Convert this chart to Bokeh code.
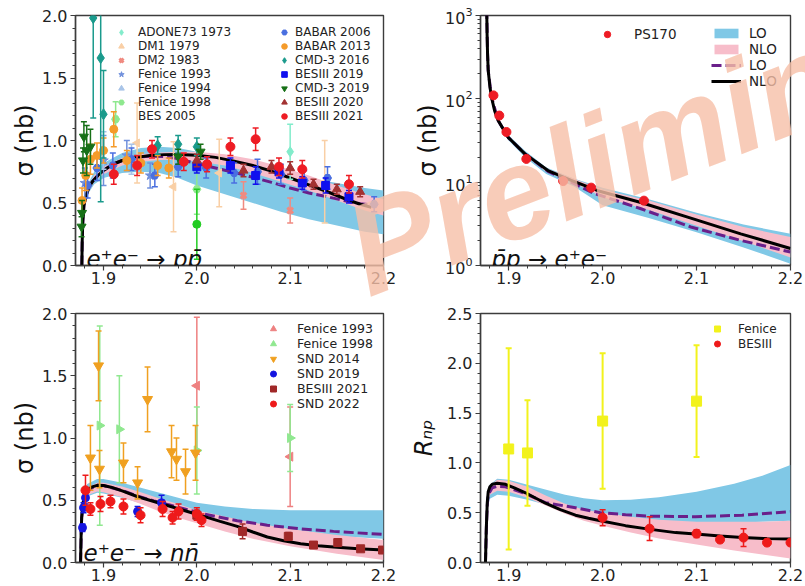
import numpy as np
from bokeh.plotting import figure
from bokeh.models import (Legend, LegendItem, Label, FixedTicker, PrintfTickFormatter,
                          Range1d, LogTickFormatter, GridBox)
from bokeh.embed import file_html
from bokeh.resources import INLINE

FONT = "DejaVu Sans"
BLUE_BAND = "#80c8e6"
PINK_BAND = "#f7bdca"
LO_LINE = "#6a1f8a"
WM_COLOR = "#f6bfa8"

# ---------------- axis ticks ----------------
x_major = [1.9, 2.0, 2.1, 2.2]
x_minor = [1.88, 1.92, 1.94, 1.96, 1.98, 2.02, 2.04, 2.06, 2.08, 2.12, 2.14, 2.16, 2.18]
y_major_2 = [0.0, 0.5, 1.0, 1.5, 2.0]
y_major_25 = [0.0, 0.5, 1.0, 1.5, 2.0, 2.5]
y_major_log = [1, 10, 100, 1000]
y_minor_log = [2, 3, 4, 5, 6, 7, 8, 9, 20, 30, 40, 50, 60, 70, 80, 90,
               200, 300, 400, 500, 600, 700, 800, 900]

# ---------------- panel 1: e+e- -> p pbar ----------------
p1_nlo_x = [1.8768, 1.8772, 1.8778, 1.879, 1.881, 1.884, 1.888, 1.894, 1.900, 1.910, 1.920, 1.935,
            1.950, 1.965, 1.980, 2.000, 2.020, 2.040, 2.060, 2.080, 2.100, 2.120, 2.140, 2.160,
            2.175, 2.187]
p1_nlo_y = [0.0, 0.20, 0.35, 0.48, 0.55, 0.62, 0.67, 0.72, 0.76, 0.81, 0.84, 0.865,
            0.88, 0.887, 0.888, 0.882, 0.865, 0.835, 0.80, 0.755, 0.70, 0.645, 0.59, 0.53,
            0.49, 0.465]
p1_lo_x = [1.8768, 1.8772, 1.8778, 1.879, 1.881, 1.884, 1.888, 1.894, 1.900, 1.910, 1.920, 1.935,
           1.950, 1.965, 1.980, 2.000, 2.020, 2.040, 2.060, 2.080, 2.100, 2.120, 2.140, 2.160,
           2.175, 2.190]
p1_lo_y = [0.0, 0.20, 0.35, 0.48, 0.55, 0.62, 0.67, 0.72, 0.76, 0.81, 0.84, 0.865,
           0.875, 0.872, 0.855, 0.815, 0.78, 0.745, 0.705, 0.665, 0.62, 0.58, 0.55, 0.515,
           0.495, 0.48]
p1_band_x = [1.8768, 1.879, 1.884, 1.89, 1.90, 1.92, 1.94, 1.96, 1.98, 2.0, 2.03, 2.06, 2.09,
             2.12, 2.15, 2.18, 2.2]
p1_lo_band_lower = [0.0, 0.45, 0.58, 0.65, 0.70, 0.74, 0.75, 0.74, 0.70, 0.64, 0.57, 0.50, 0.43,
                    0.37, 0.32, 0.27, 0.25]
p1_lo_band_upper = [0.0, 0.52, 0.66, 0.75, 0.82, 0.90, 0.94, 0.95, 0.94, 0.91, 0.86, 0.81, 0.76,
                    0.70, 0.66, 0.62, 0.60]
p1_nlo_band_lower = [0.0, 0.46, 0.59, 0.67, 0.73, 0.80, 0.83, 0.845, 0.845, 0.835, 0.80, 0.74,
                     0.67, 0.60, 0.52, 0.44, 0.40]
p1_nlo_band_upper = [0.0, 0.50, 0.64, 0.72, 0.79, 0.86, 0.89, 0.905, 0.91, 0.91, 0.89, 0.85,
                     0.79, 0.72, 0.64, 0.57, 0.53]

adone73_x = [2.1]
adone73_y = [0.91]
adone73_e = [0.22]
dm1_x = [1.936, 1.975, 2.024, 2.137]
dm1_y = [0.98, 0.63, 0.74, 0.67]
dm1_e = [0.32, 0.36, 0.27, 0.33]
dm2_x = [2.05, 2.1]
dm2_y = [0.56, 0.44]
dm2_e = [0.11, 0.10]
fen93_x = [1.88, 1.9, 1.925, 1.95]
fen93_y = [0.66, 0.84, 0.88, 0.72]
fen93_e = [0.12, 0.20, 0.12, 0.10]
fen94_x = [1.9, 1.93]
fen94_y = [0.92, 0.85]
fen94_e = [0.15, 0.12]
fen98_x = [1.913, 2.0]
fen98_y = [1.17, 0.61]
fen98_e = [0.14, 0.20]
bes05_x = [2.0]
bes05_y = [0.33]
bes05_e = [0.28]
babar06_x = [1.883, 1.893, 1.91, 1.93, 1.955, 1.98, 2.01, 2.04, 2.065, 2.09, 2.115, 2.14, 2.19]
babar06_y = [0.64, 0.78, 0.80, 0.85, 0.72, 0.79, 0.78, 0.74, 0.75, 0.73, 0.68, 0.70, 0.49]
babar06_e = [0.10, 0.10, 0.10, 0.09, 0.09, 0.08, 0.08, 0.08, 0.10, 0.08, 0.08, 0.09, 0.06]
babar13_x = [1.877, 1.881, 1.886, 1.893, 1.9, 1.911, 1.925, 1.94, 1.958, 1.97]
babar13_y = [0.52, 0.72, 0.85, 0.88, 0.92, 1.09, 0.84, 0.82, 0.80, 0.78]
babar13_e = [0.10, 0.12, 0.12, 0.10, 0.10, 0.14, 0.08, 0.08, 0.08, 0.08]
cmd16_x = [1.889, 1.897, 1.9, 1.958, 1.98, 2.0]
cmd16_y = [1.98, 1.66, 1.21, 0.96, 0.97, 0.95]
cmd16_e = [0.80, 1.15, 0.35, 0.07, 0.07, 0.07]
bes19_x = [2.0, 2.036, 2.063, 2.088, 2.113, 2.138, 2.163]
bes19_y = [0.79, 0.80, 0.72, 0.75, 0.66, 0.64, 0.55]
bes19_e = [0.05, 0.06, 0.07, 0.05, 0.05, 0.06, 0.05]
cmd19_x = [1.8765, 1.877, 1.878, 1.879, 1.882, 1.886, 1.98, 2.004]
cmd19_y = [0.31, 0.42, 0.84, 1.03, 0.92, 0.95, 0.87, 0.91]
cmd19_e = [0.08, 0.10, 0.10, 0.12, 0.20, 0.14, 0.06, 0.06]
bes20_x = [2.0, 2.05, 2.08, 2.1, 2.125, 2.15, 2.175]
bes20_y = [0.84, 0.76, 0.79, 0.78, 0.65, 0.61, 0.59]
bes20_e = [0.05, 0.05, 0.05, 0.05, 0.04, 0.04, 0.04]
bes21_x = [1.911, 1.936, 1.952, 1.986, 2.011, 2.036, 2.063, 2.088, 2.113, 2.163]
bes21_y = [0.73, 0.80, 0.93, 0.83, 0.81, 0.95, 1.01, 0.79, 0.77, 0.65]
bes21_e = [0.08, 0.08, 0.07, 0.07, 0.06, 0.07, 0.09, 0.07, 0.07, 0.07]

# ---------------- panel 2: pbar p -> e+e- ----------------
p2_nlo_x = [1.8766, 1.8770, 1.8775, 1.8782, 1.880, 1.8817, 1.885, 1.8888, 1.8994, 1.917, 1.9418,
            1.9666, 1.9949, 2.0408, 2.0939, 2.147, 2.2]
p2_nlo_y = [1200, 600, 350, 219, 140, 105, 72, 55, 34.5, 22, 13.8, 10.5, 7.9, 5.7, 3.7, 2.4, 1.6]
p2_lo_x = [1.8766, 1.8775, 1.8782, 1.8817, 1.8888, 1.8994, 1.917, 1.9418, 1.9666, 1.99, 2.0408,
           2.0939, 2.147, 2.2]
p2_lo_y = [1200, 350, 219, 105, 55, 34.5, 22, 13.5, 10.0, 7.4, 4.8, 2.9, 2.0, 1.45]
p2_band_x = [1.8766, 1.8782, 1.8817, 1.8888, 1.8994, 1.917, 1.94, 1.97, 2.0, 2.05, 2.1, 2.15, 2.2]
p2_lo_band_lower = [1200, 200, 98, 51, 32, 20, 12.5, 8.8, 5.3, 3.7, 2.5, 1.65, 1.05]
p2_lo_band_upper = [1200, 235, 112, 59, 37, 24, 15, 11.0, 8.6, 6.2, 4.3, 3.1, 2.4]
p2_nlo_band_lower = [1200, 210, 101, 53, 33.5, 21, 13.3, 9.8, 6.6, 4.6, 3.0, 1.95, 1.25]
p2_nlo_band_upper = [1200, 228, 109, 57, 36, 23, 14.6, 10.9, 8.1, 6.0, 4.1, 2.9, 2.2]
ps170_x = [1.8838, 1.890, 1.8976, 1.9188, 1.958, 1.9878, 2.044]
ps170_y = [110, 63, 40, 19, 10.3, 8.6, 6.0]

# ---------------- panel 3: e+e- -> n nbar ----------------
p3_nlo_x = [1.8754, 1.8760, 1.8766, 1.8778, 1.8795, 1.8825, 1.8870, 1.8932, 1.9000, 1.9080,
            1.9200, 1.9360, 1.9540, 1.9720, 1.9900, 2.0075, 2.0250, 2.0433, 2.0600, 2.0755,
            2.0930, 2.1112, 2.1300, 2.1465, 2.1730, 2.2000]
p3_nlo_y = [0.0, 0.22, 0.36, 0.47, 0.53, 0.58, 0.605, 0.62, 0.618, 0.605, 0.575, 0.53, 0.49,
            0.45, 0.41, 0.37, 0.33, 0.29, 0.245, 0.205, 0.175, 0.15, 0.135, 0.125, 0.11, 0.10]
p3_lo_x = [1.8754, 1.8766, 1.8795, 1.8825, 1.8932, 1.9000, 1.9200, 1.9360, 1.9540, 1.9720,
           1.9900, 2.0075, 2.0433, 2.0755, 2.1112, 2.1465, 2.2000]
p3_lo_y = [0.0, 0.36, 0.53, 0.58, 0.62, 0.618, 0.578, 0.535, 0.495, 0.46, 0.425, 0.39, 0.335,
           0.30, 0.27, 0.25, 0.225]
p3_band_x = [1.8754, 1.8766, 1.8795, 1.8825, 1.8932, 1.9000, 1.9200, 1.9400, 1.9600, 1.9800,
             2.0000, 2.0300, 2.0600, 2.1000, 2.1500, 2.2000]
p3_lo_band_lower = [0.0, 0.33, 0.49, 0.53, 0.56, 0.555, 0.52, 0.475, 0.43, 0.39, 0.35, 0.31,
                    0.28, 0.24, 0.21, 0.19]
p3_lo_band_upper = [0.0, 0.40, 0.57, 0.63, 0.67, 0.67, 0.64, 0.60, 0.56, 0.52, 0.48, 0.45,
                    0.43, 0.42, 0.42, 0.42]
p3_nlo_band_lower = [0.0, 0.34, 0.50, 0.54, 0.57, 0.565, 0.525, 0.47, 0.41, 0.36, 0.315, 0.25,
                     0.19, 0.13, 0.07, 0.02]
p3_nlo_band_upper = [0.0, 0.38, 0.55, 0.60, 0.64, 0.64, 0.61, 0.565, 0.515, 0.47, 0.42, 0.37,
                     0.32, 0.27, 0.22, 0.18]

nfen93_x = [2.0, 2.1]
nfen93_y = [1.42, 0.85]
nfen93_e = [0.55, 0.40]
nfen98_x = [1.896, 1.917, 2.0, 2.1]
nfen98_y = [1.10, 1.07, 0.90, 1.00]
nfen98_e = [0.80, 0.43, 0.35, 0.27]
snd14_x = [1.886, 1.8947, 1.8957, 1.9214, 1.9365, 1.9472, 1.9729, 1.9782, 1.9879, 1.9986]
snd14_y = [0.84, 1.58, 0.75, 0.80, 0.64, 1.31, 0.89, 0.83, 0.73, 0.88]
snd14_e = [0.26, 0.28, 0.15, 0.16, 0.13, 0.26, 0.21, 0.17, 0.18, 0.22]
snd19_x = [1.8775, 1.8786, 1.8807, 1.9365, 1.9622]
snd19_y = [0.28, 0.44, 0.52, 0.41, 0.48]
snd19_e = [0.03, 0.04, 0.05, 0.04, 0.06]
nbes21_x = [2.0, 2.049, 2.098, 2.125, 2.151, 2.1755, 2.199]
nbes21_y = [0.38, 0.25, 0.21, 0.14, 0.16, 0.11, 0.10]
nbes21_e = [0.04, 0.06, 0.03, 0.02, 0.03, 0.02, 0.02]
snd22_x = [1.8807, 1.886, 1.8968, 1.9075, 1.9214, 1.9397, 1.9633, 1.974, 1.9804, 2.0, 2.005]
snd22_y = [0.58, 0.43, 0.47, 0.49, 0.45, 0.38, 0.43, 0.36, 0.41, 0.39, 0.34]
snd22_e = [0.12, 0.05, 0.06, 0.05, 0.06, 0.06, 0.06, 0.05, 0.06, 0.05, 0.05]

# ---------------- panel 4: R_np ----------------
p4_nlo_x = [1.8753, 1.8762, 1.8772, 1.8782, 1.8800, 1.8825, 1.8878, 1.8966, 1.9060, 1.9179,
            1.9290, 1.9392, 1.9550, 1.9711, 1.9850, 1.9977, 2.0244, 2.0492, 2.0776, 2.0989,
            2.1250, 2.1486, 2.1750, 2.2000]
p4_nlo_y = [0.0, 0.35, 0.60, 0.71, 0.76, 0.785, 0.795, 0.785, 0.75, 0.70, 0.645, 0.595, 0.53,
            0.475, 0.445, 0.42, 0.37, 0.335, 0.30, 0.285, 0.265, 0.25, 0.24, 0.235]
p4_lo_x = [1.8753, 1.8762, 1.8772, 1.8782, 1.8825, 1.8878, 1.8966, 1.9179, 1.9392, 1.9711,
           1.9977, 2.0244, 2.0492, 2.0989, 2.1486, 2.2000]
p4_lo_y = [0.0, 0.33, 0.57, 0.68, 0.75, 0.765, 0.76, 0.69, 0.60, 0.55, 0.50, 0.48, 0.465,
           0.46, 0.475, 0.51]
p4_band_x = [1.8753, 1.8772, 1.8800, 1.8878, 1.9000, 1.9200, 1.9400, 1.9600, 1.9800, 2.0000,
             2.0300, 2.0600, 2.1000, 2.1400, 2.1700, 2.2000]
p4_lo_band_lower = [0.0, 0.55, 0.64, 0.68, 0.67, 0.63, 0.58, 0.53, 0.48, 0.44, 0.41, 0.40,
                    0.395, 0.40, 0.41, 0.42]
p4_lo_band_upper = [0.0, 0.65, 0.78, 0.84, 0.83, 0.78, 0.73, 0.68, 0.645, 0.625, 0.63, 0.655,
                    0.71, 0.79, 0.87, 0.98]
p4_nlo_band_lower = [0.0, 0.58, 0.68, 0.72, 0.71, 0.65, 0.57, 0.49, 0.42, 0.37, 0.30, 0.24,
                     0.18, 0.12, 0.08, 0.04]
p4_nlo_band_upper = [0.0, 0.63, 0.77, 0.83, 0.82, 0.76, 0.67, 0.59, 0.53, 0.50, 0.46, 0.43,
                     0.41, 0.41, 0.41, 0.42]
rfen_x = [1.9, 1.92, 2.0, 2.1]
rfen_y = [1.14, 1.10, 1.42, 1.62]
rfen_e = [1.01, 0.53, 0.68, 0.56]
rbes_x = [2.0, 2.05, 2.1, 2.125, 2.15, 2.175, 2.2]
rbes_y = [0.45, 0.34, 0.29, 0.23, 0.25, 0.20, 0.20]
rbes_e = [0.08, 0.12, 0.04, 0.03, 0.09, 0.03, 0.03]


# ---------------- helpers ----------------
def make_fig(width, height, bl, br, bt, bb, y_range, y_type="linear"):
    p = figure(width=width, height=height, x_range=Range1d(1.87, 2.2),
               y_range=Range1d(*y_range), y_axis_type=y_type,
               output_backend="svg", toolbar_location=None,
               min_border_left=bl, min_border_right=br, min_border_top=bt,
               min_border_bottom=bb)
    p.grid.visible = False
    p.background_fill_color = "white"
    p.border_fill_color = "white"
    p.outline_line_color = "#3c3c3c"
    p.outline_line_width = 1.4
    p.outline_line_alpha = 1.0
    for ax in (p.xaxis[0], p.yaxis[0]):
        ax.axis_line_color = "#3c3c3c"
        ax.axis_line_width = 1.4
        ax.major_tick_line_color = "#3c3c3c"
        ax.minor_tick_line_color = "#3c3c3c"
        ax.major_tick_out = 5
        ax.major_tick_in = 0
        ax.minor_tick_out = 3
        ax.minor_tick_in = 0
        ax.major_tick_line_width = 1.2
        ax.minor_tick_line_width = 1.0
        ax.major_label_text_font = FONT
        ax.major_label_text_font_size = "16px"
        ax.major_label_text_color = "#222222"
        ax.axis_label_text_font = FONT
        ax.axis_label_text_font_size = "24px"
        ax.axis_label_text_font_style = "normal"
        ax.axis_label_text_color = "#111111"
    p.xaxis.ticker = FixedTicker(ticks=x_major, minor_ticks=x_minor)
    p.xaxis.formatter = PrintfTickFormatter(format="%.1f")
    p.xaxis.major_label_standoff = 1
    p.yaxis.major_label_standoff = 3
    p.yaxis.axis_label_standoff = 0
    return p


def curves(p, bx, lo_l, lo_u, nlo_l, nlo_u, lx, ly, nx, ny):
    r_lob = p.varea(x=bx, y1=lo_l, y2=lo_u, fill_color=BLUE_BAND, fill_alpha=1.0)
    r_nlob = p.varea(x=bx, y1=nlo_l, y2=nlo_u, fill_color=PINK_BAND, fill_alpha=1.0)
    r_lo = p.line(lx, ly, line_color=LO_LINE, line_width=3, line_dash="10 4")
    r_nlo = p.line(nx, ny, line_color="black", line_width=3)
    return r_lob, r_nlob, r_lo, r_nlo


def errpts(p, x, y, e, marker, color, size=8, angle=0.0, lw=1.5, mlw=1.0):
    x = np.asarray(x, dtype=float)
    y = np.asarray(y, dtype=float)
    e = np.asarray(e, dtype=float)
    p.segment(x0=x, y0=y - e, x1=x, y1=y + e, line_color=color, line_width=lw)
    p.scatter(np.r_[x, x], np.r_[y - e, y + e], marker="dash", size=6,
              line_color=color, line_width=lw)
    return p.scatter(x, y, marker=marker, size=size, fill_color=color, line_color=color,
                     line_width=mlw, angle=angle)


def legend(p, items, loc, standoff, gw=16, gh=14, lh=14, fs="12px"):
    leg = Legend(items=[LegendItem(label=l, renderers=[r]) for l, r in items],
                 location=loc, orientation="vertical",
                 background_fill_alpha=0.0, border_line_alpha=0.0,
                 label_text_font=FONT, label_text_font_size=fs,
                 label_text_color="#222222",
                 glyph_width=gw, glyph_height=gh, label_height=lh,
                 label_standoff=standoff, spacing=0, padding=0, margin=0)
    p.add_layout(leg)
    return leg


HALF = np.pi / 2

# ---------------- panel 1 ----------------
p1 = make_fig(400, 290, 74, 15, 15, 25, (0, 2))
p1.yaxis.ticker = FixedTicker(ticks=y_major_2, minor_ticks=[i / 10 for i in range(21) if i % 5])
p1.yaxis.formatter = PrintfTickFormatter(format="%.1f")
p1.yaxis.axis_label = "σ (nb)"
curves(p1, p1_band_x, p1_lo_band_lower, p1_lo_band_upper, p1_nlo_band_lower, p1_nlo_band_upper,
       p1_lo_x, p1_lo_y, p1_nlo_x, p1_nlo_y)
r_dm1 = errpts(p1, dm1_x, dm1_y, dm1_e, "triangle", "#f9cfa5", angle=HALF)
r_adone = errpts(p1, adone73_x, adone73_y, adone73_e, "diamond", "#82eccb", size=10)
r_dm2 = errpts(p1, dm2_x, dm2_y, dm2_e, "x", "#f08a80", mlw=3)
r_f93 = errpts(p1, fen93_x, fen93_y, fen93_e, "star", "#6f8fdc", size=10)
r_f94 = errpts(p1, fen94_x, fen94_y, fen94_e, "triangle", "#a8c4e8", angle=-HALF)
r_f98 = errpts(p1, fen98_x, fen98_y, fen98_e, "hex", "#8ee88e")
r_bes05 = errpts(p1, bes05_x, bes05_y, bes05_e, "circle", "#22cc22")
r_bes05_leg = p1.scatter([], [], marker="circle", size=8, fill_alpha=0, line_alpha=0)
r_b06 = errpts(p1, babar06_x, babar06_y, babar06_e, "hex", "#4a6fe0")
r_b13 = errpts(p1, babar13_x, babar13_y, babar13_e, "circle", "#f59b2a")
r_c16 = errpts(p1, cmd16_x, cmd16_y, cmd16_e, "diamond", "#1a9a8c", size=11)
r_b19 = errpts(p1, bes19_x, bes19_y, bes19_e, "square", "#1010ee")
r_c19 = errpts(p1, cmd19_x, cmd19_y, cmd19_e, "inverted_triangle", "#177017", size=9)
r_b20 = errpts(p1, bes20_x, bes20_y, bes20_e, "triangle", "#a33232", size=9)
r_b21 = errpts(p1, bes21_x, bes21_y, bes21_e, "circle", "#ee1c24", size=9)

legend(p1, [("ADONE73 1973", r_adone), ("DM1 1979", r_dm1), ("DM2 1983", r_dm2),
            ("Fenice 1993", r_f93), ("Fenice 1994", r_f94), ("Fenice 1998", r_f98),
            ("BES 2005", r_bes05_leg)], (38, 142), 9)
legend(p1, [("BABAR 2006", r_b06), ("BABAR 2013", r_b13), ("CMD-3 2016", r_c16),
            ("BESIII 2019", r_b19), ("CMD-3 2019", r_c19), ("BESIII 2020", r_b20),
            ("BESIII 2021", r_b21)], (201, 142), 3)
p1.add_layout(Label(x=1.8817, y=0.056, text="e⁺e⁻ → pp̄", text_font=FONT,
                    text_font_style="italic", text_font_size="23px", text_color="#111111",
                    text_baseline="alphabetic"))

# ---------------- panel 2 ----------------
p2 = make_fig(405, 290, 79, 15, 15, 25, (1, 1000), y_type="log")
p2.yaxis.ticker = FixedTicker(ticks=y_major_log, minor_ticks=y_minor_log)
p2.yaxis.formatter = LogTickFormatter()
p2.yaxis.axis_label = "σ (nb)"
q_lob, q_nlob, q_lo, q_nlo = curves(p2, p2_band_x, p2_lo_band_lower, p2_lo_band_upper,
                                    p2_nlo_band_lower, p2_nlo_band_upper,
                                    p2_lo_x, p2_lo_y, p2_nlo_x, p2_nlo_y)
r_ps = p2.scatter(ps170_x, ps170_y, marker="circle", size=9, fill_color="#ee1c24",
                  line_color="#ee1c24")
legend(p2, [("PS170", r_ps)], (117, 223), 17, gw=20, gh=16, lh=16, fs="13.5px")
legend(p2, [("LO", q_lob), ("NLO", q_nlob), ("LO", q_lo), ("NLO", q_nlo)], (231, 176), 8,
       gw=30, gh=12, lh=16, fs="13.5px")
p2.add_layout(Label(x=1.8817, y=1.21, text="p̄p → e⁺e⁻", text_font=FONT,
                    text_font_style="italic", text_font_size="23px", text_color="#111111",
                    text_baseline="alphabetic"))

# ---------------- panel 3 ----------------
p3 = make_fig(400, 296, 75, 17, 22, 24, (0, 2))
p3.yaxis.ticker = FixedTicker(ticks=y_major_2, minor_ticks=[i / 10 for i in range(21) if i % 5])
p3.yaxis.formatter = PrintfTickFormatter(format="%.1f")
p3.yaxis.axis_label = "σ (nb)"
curves(p3, p3_band_x, p3_lo_band_lower, p3_lo_band_upper, p3_nlo_band_lower, p3_nlo_band_upper,
       p3_lo_x, p3_lo_y, p3_nlo_x, p3_nlo_y)
s_f93 = errpts(p3, nfen93_x, nfen93_y, nfen93_e, "triangle", "#ee8080", angle=HALF, size=9)
s_f98 = errpts(p3, nfen98_x, nfen98_y, nfen98_e, "triangle", "#90e890", angle=-HALF, size=9)
s_s14 = errpts(p3, snd14_x, snd14_y, snd14_e, "inverted_triangle", "#f0a020", size=10)
s_s19 = errpts(p3, snd19_x, snd19_y, snd19_e, "circle", "#1515e0", size=8)
s_b21 = errpts(p3, nbes21_x, nbes21_y, nbes21_e, "square", "#a02828", size=8)
s_s22 = errpts(p3, snd22_x, snd22_y, snd22_e, "circle", "#ee1a1a", size=9)
legend(p3, [("Fenice 1993", s_f93), ("Fenice 1998", s_f98), ("SND 2014", s_s14),
            ("SND 2019", s_s19), ("BESIII 2021", s_b21), ("SND 2022", s_s22)],
       (190, 151), 16, gw=16, gh=15, lh=15, fs="12.5px")
p3.add_layout(Label(x=1.8786, y=0.08, text="e⁺e⁻ → nn̄", text_font=FONT,
                    text_font_style="italic", text_font_size="23px", text_color="#111111",
                    text_baseline="alphabetic"))

# ---------------- panel 4 ----------------
p4 = make_fig(405, 296, 80, 15, 23, 23, (0, 2.5))
p4.yaxis.ticker = FixedTicker(ticks=y_major_25, minor_ticks=[i / 10 for i in range(26) if i % 5])
p4.yaxis.formatter = PrintfTickFormatter(format="%.1f")
p4.yaxis.axis_label = "Rₙₚ"
p4.yaxis.axis_label_text_font_style = "italic"
p4.yaxis.axis_label_standoff = 6
curves(p4, p4_band_x, p4_lo_band_lower, p4_lo_band_upper, p4_nlo_band_lower, p4_nlo_band_upper,
       p4_lo_x, p4_lo_y, p4_nlo_x, p4_nlo_y)
t_fen = errpts(p4, rfen_x, rfen_y, rfen_e, "square", "#f2f21c", size=10, lw=2)
t_bes = errpts(p4, rbes_x, rbes_y, rbes_e, "circle", "#ee1a1a", size=9)
legend(p4, [("Fenice", t_fen), ("BESIII", t_bes)], (229, 211), 13, gw=16, gh=15, lh=15,
       fs="12px")

# ---------------- watermark: transparent figure laid over the whole grid ----------------
pw = figure(width=805, height=586, x_range=Range1d(0, 805), y_range=Range1d(0, 586),
            output_backend="svg", toolbar_location=None, x_axis_location=None,
            y_axis_location=None, min_border=0, title=None)
try:
    pw.frame_align = False          # let the overlay's frame fill its whole canvas
except AttributeError:
    # frame gets aligned with the panel frames (x 74..790, y 15..561 on the page)
    pw.x_range = Range1d(74, 790)
    pw.y_range = Range1d(25, 571)
pw.grid.visible = False
pw.outline_line_color = None
pw.background_fill_alpha = 0.0
pw.border_fill_alpha = 0.0
pw.add_layout(Label(x=352, y=331, text="Preliminary", angle=0.367,
                    text_font="Liberation Sans", text_font_style="bold italic",
                    text_font_size="130px", text_color=WM_COLOR, text_alpha=0.8,
                    text_align="left", text_baseline="alphabetic"))

layout = GridBox(children=[(p1, 0, 0), (p2, 0, 1), (p3, 1, 0), (p4, 1, 1),
                           (pw, 0, 0, 2, 2)], spacing=0)
open("out.html", "w").write(file_html(layout, INLINE))
